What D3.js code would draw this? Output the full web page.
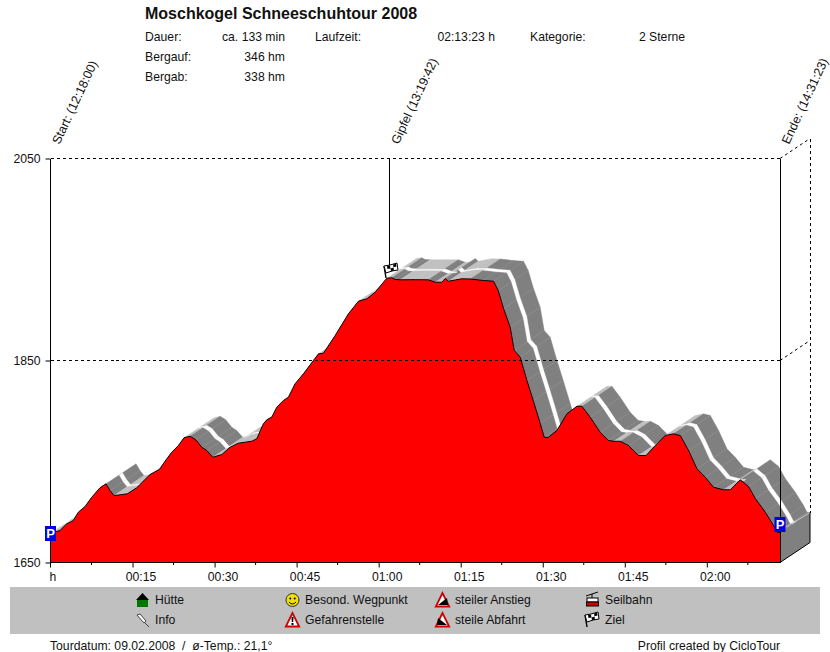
<!DOCTYPE html>
<html>
<head>
<meta charset="utf-8">
<script src="https://cdn.jsdelivr.net/npm/d3@7"></script>
<style>
	html, body { margin: 0; padding: 0; background: #fff; }
	svg { display: block; }
	text { font-family: "Liberation Sans", Arial, sans-serif; font-size: 12.2px; fill: #111; }
</style>
</head>
<body>
<div id="chart"></div>
<script>
// elevation profile
var minutes = [0, 0.46, 1.74, 2.96, 4.17, 5.09, 6.31, 7.54, 9.05, 10.15, 10.88, 11.61, 12.71, 14.05, 15.77, 18.2, 19.9,
	20.94, 22.17, 23.38, 24.42, 25.52, 26.56, 27.66, 28.57, 29.67, 31.32, 32.83, 34.35, 36.8, 37.72, 38.92, 39.55,
	40.46, 41.38, 42.58, 43.5, 44.72, 46.24, 48.07, 49, 49.9, 52.04, 54.47, 56.3, 57.84, 59.36, 61.5, 62.41, 63, 63.93,
	66.67, 69.05, 70.33, 71.56, 72.16, 72.71, 73.99, 75.22, 76.73, 79.17, 81, 81.86, 82.83, 84.05, 84.78, 85.88, 87.11,
	88.26, 89.54, 90.27, 91, 92.59, 94.42, 96.25, 97.16, 98.68, 100.5, 101.98, 103, 104.2, 105.7, 107.5, 108.9, 110.57,
	112.4, 113.9, 115.15, 116.67, 118.2, 119.71, 121.23, 123.06, 124.29, 126.12, 127.64, 128.86, 130.69, 132.21, 132.83, 133.38];
var elevation = [1678.7, 1679.7, 1681.7, 1688.3, 1691.6, 1699.8, 1705.4, 1714.6, 1724, 1727.9, 1721.3, 1716.3, 1717, 1718,
	1724, 1737.1, 1742, 1750.3, 1759.2, 1765.8, 1773.5, 1775, 1771.5, 1764.1, 1760.9, 1754.2, 1756.9, 1764.1, 1768.1,
	1770.1, 1772.5, 1787.3, 1791.3, 1793.9, 1803.8, 1810.4, 1813.7, 1826.9, 1836.8, 1850, 1856.6, 1857.2, 1874.7, 1896.2,
	1908.7, 1911.1, 1917.6, 1931.5, 1931.9, 1930.2, 1929.9, 1930, 1929.9, 1927.5, 1927.5, 1931.2, 1928.5, 1929.7, 1930.9,
	1930.7, 1929.2, 1928.5, 1919.3, 1901.5, 1883, 1860, 1853.3, 1830.2, 1810.4, 1787.6, 1774, 1773.8, 1780.7, 1797.2,
	1804.7, 1804.7, 1793.8, 1779, 1770.8, 1770, 1770, 1765.8, 1755.9, 1755.9, 1765.8, 1775.7, 1777.4, 1775.7, 1760.9,
	1742.8, 1734.4, 1724.5, 1722, 1722, 1731.9, 1725.2, 1713.4, 1699.8, 1686.6, 1680, 1679.7];

var elevTicks = [1650, 1850, 2050];
var timeTicks = [15, 30, 45, 60, 75, 90, 105, 120];
var timeMinor = [7.5, 22.5, 37.5, 52.5, 67.5, 82.5, 97.5, 112.5, 127.5];

var waypointNames = ["Start: (12:18:00)", "Gipfel (13:19:42)", "Ende: (14:31:23)"];
var waypointMinutes = [0, 62, 133.38];

var infoLabels = ["Dauer:", "Bergauf:", "Bergab:"];
var infoValues = ["ca. 133 min", "346 hm", "338 hm"];
var legendLabels = ["Hütte", "Info", "Besond. Wegpunkt", "Gefahrenstelle", "steiler Anstieg", "steile Abfahrt", "Seilbahn", "Ziel"];

var width = 830, height = 652;
var left = 50.5, right = 780, top_ = 158.5, bottom = 562.5;
// depth of the 3d ribbon
var depthX = 30, depthY = -20;

var svg = d3.select("#chart").append("svg").attr("width", width).attr("height", height);

var x = d3.scaleLinear().domain([0, 133.38]).range([left, right]);
var y = d3.scaleLinear().domain([1650, 2050]).range([bottom, top_]);

var profile = minutes.map(function(m, i) { return [x(m), y(elevation[i])]; });

// header
svg.append("text").attr("x", 145).attr("y", 19).style("font-weight", "bold").style("font-size", "16px").text("Moschkogel Schneeschuhtour 2008");
infoLabels.forEach(function(t, i) {
	svg.append("text").attr("x", 145).attr("y", 41 + i * 20).text(t);
	svg.append("text").attr("x", 285).attr("y", 41 + i * 20).attr("text-anchor", "end").text(infoValues[i]);
});
svg.append("text").attr("x", 315).attr("y", 41).text("Laufzeit:");
svg.append("text").attr("x", 495).attr("y", 41).attr("text-anchor", "end").text("02:13:23 h");
svg.append("text").attr("x", 530).attr("y", 41).text("Kategorie:");
svg.append("text").attr("x", 685).attr("y", 41).attr("text-anchor", "end").text("2 Sterne");

// ribbon: only faces that can be seen from the front
var ribbon = svg.append("g");
var faces = [];
for (var i = 0; i < profile.length - 1; i++) {
	var a = profile[i], b = profile[i + 1];
	var slope = (a[1] - b[1]) / (b[0] - a[0]);
	if (slope < 0.62) faces.push({a: a, b: b, falling: slope < -0.03});
}
function facePoints(d, t0, t1) {
	return [
		[d.a[0] + depthX * t0, d.a[1] + depthY * t0],
		[d.b[0] + depthX * t0, d.b[1] + depthY * t0],
		[d.b[0] + depthX * t1, d.b[1] + depthY * t1],
		[d.a[0] + depthX * t1, d.a[1] + depthY * t1]
	].join(" ");
}
faces.forEach(function(d) {
	var col = d.falling ? "#808080" : "#c0c0c0";
	ribbon.append("polygon").attr("points", facePoints(d, 0, 1)).attr("fill", col).attr("stroke", col).attr("stroke-width", 0.4);
});
faces.forEach(function(d) {
	var t0 = d.falling ? 0.44 : 0.47, t1 = d.falling ? 0.55 : 0.52;
	ribbon.append("polygon").attr("points", facePoints(d, t0, t1)).attr("fill", "#fff").attr("stroke", "#fff").attr("stroke-width", 0.3);
});

// end wall of the ribbon
var last = profile[profile.length - 1];
svg.append("path")
	.attr("d", d3.line()([[right, bottom], [right + depthX, bottom + depthY], [right + depthX, last[1] + depthY], last]) + "Z")
	.attr("fill", "#808080");
svg.append("line").attr("x1", last[0]).attr("y1", last[1] - 2).attr("x2", right + depthX).attr("y2", last[1] + depthY)
	.attr("stroke", "#c8c8c8");
svg.append("path")
	.attr("d", d3.line()([[right, bottom], [right + depthX, bottom + depthY], [right + depthX, last[1] + depthY]]))
	.attr("fill", "none").attr("stroke", "#000");

// back wall dashes
svg.append("line").attr("x1", right + depthX).attr("x2", right + depthX).attr("y1", top_ + depthY).attr("y2", last[1] + depthY)
	.attr("stroke", "#000").attr("stroke-dasharray", "3,3").attr("shape-rendering", "crispEdges");

// profile area
var area = d3.area().x(function(d) { return d[0]; }).y0(bottom).y1(function(d) { return d[1]; });
svg.append("path").datum(profile).attr("d", area).attr("fill", "#ff0000");
svg.append("path").datum(profile).attr("d", d3.line()).attr("fill", "none").attr("stroke", "#000").attr("stroke-width", 1);

// dashed elevation lines run over everything
elevTicks.slice(1).forEach(function(v) {
	svg.append("line").attr("x1", left).attr("x2", right).attr("y1", y(v)).attr("y2", y(v))
		.attr("stroke", "#000").attr("stroke-dasharray", "3,3").attr("shape-rendering", "crispEdges");
	svg.append("line").attr("x1", right).attr("x2", right + depthX).attr("y1", y(v)).attr("y2", y(v) + depthY)
		.attr("stroke", "#000").attr("stroke-dasharray", "3,3");
});

// waypoint lines and slanted labels
waypointMinutes.forEach(function(m, i) {
	var px = x(m);
	var yEnd = i == 1 ? 265 : bottom;
	svg.append("line").attr("x1", px).attr("x2", px).attr("y1", top_).attr("y2", yEnd)
		.attr("stroke", "#000").attr("shape-rendering", "crispEdges");
	svg.append("text").attr("transform", "translate(" + (px + 9) + ",145) rotate(-65)").style("font-size", "12.5px").text(waypointNames[i]);
});

// axes
var yAxis = d3.axisLeft(y).tickValues(elevTicks).tickSize(5).tickPadding(5).tickFormat(d3.format("d"));
var yG = svg.append("g").attr("transform", "translate(" + left + ",0)").call(yAxis);
yG.select(".domain").remove();
yG.selectAll("text").style("font-size", "12.2px").style("font-family", null).attr("fill", null);

var xAxis = d3.axisBottom(x).tickValues(timeTicks).tickSize(5).tickPadding(5).tickFormat(function(m) {
	return d3.format("02")(Math.floor(m / 60)) + ":" + d3.format("02")(m % 60);
});
var xG = svg.append("g").attr("transform", "translate(0," + bottom + ")").call(xAxis);
xG.select(".domain").attr("d", "M" + left + ",0H" + right);
xG.selectAll("text").attr("dx", 8).style("font-size", "12.2px").style("font-family", null).attr("fill", null);
xG.selectAll(".minor").data(timeMinor).enter().append("line").attr("class", "minor")
	.attr("x1", function(d) { return x(d); }).attr("x2", function(d) { return x(d); })
	.attr("y1", 0).attr("y2", 2.5).attr("stroke", "#000");
xG.append("line").attr("x1", left).attr("x2", left).attr("y1", 0).attr("y2", 5).attr("stroke", "#000");
svg.append("text").attr("x", left - 1).attr("y", 581).text("h");

// parking signs
function parking(px, py) {
	svg.append("rect").attr("x", px - 5.5).attr("y", py - 15).attr("width", 11).attr("height", 15).attr("fill", "#0000e0");
	svg.append("text").attr("x", px).attr("y", py - 3.5).attr("text-anchor", "middle")
		.style("font-weight", "bold").style("font-size", "13px").style("fill", "#fff").text("P");
}
parking(left, 541);
parking(right, 532);

// checkered flag
function flag(g, px, py) {
	var f = g.append("g").attr("transform", "translate(" + px + "," + py + ")");
	f.append("path").attr("d", "M1,15L-1,3").attr("stroke", "#000").attr("stroke-width", 1.4);
	f.append("path").attr("d", "M-1,3L5,2L12,0L13,7L7,8L1,10Z").attr("fill", "#fff").attr("stroke", "#000");
	f.append("path").attr("d", "M2,3L5,2.5L5.5,5.5L2.5,6ZM8,1.5L11,0.8L11.5,3.5L8.5,4.2ZM5.5,5.5L8.5,4.5L9,7.5L6,8.2Z").attr("fill", "#000");
}
flag(svg, 385, 263);

// legend
svg.append("rect").attr("x", 10).attr("y", 587).attr("width", 810).attr("height", 47).attr("fill", "#c0c0c0");
var legendX = [155, 155, 305, 305, 455, 455, 605, 605];
var legendY = [604, 624, 604, 624, 604, 624, 604, 624];
legendLabels.forEach(function(t, i) {
	svg.append("text").attr("x", legendX[i]).attr("y", legendY[i]).text(t);
});

// hut
svg.append("path").attr("d", "M136,600L142.5,593L149,600Z").attr("fill", "#000");
svg.append("rect").attr("x", 137).attr("y", 600).attr("width", 11).attr("height", 7).attr("fill", "#007800");
// info pin
svg.append("path").attr("d", "M137,615L140,614L146,621L144,623ZM144,622L149,627").attr("fill", "#fff").attr("stroke", "#333").attr("stroke-width", 0.9);
// smiley
svg.append("circle").attr("cx", 292.5).attr("cy", 600).attr("r", 6.5).attr("fill", "#f0e000").attr("stroke", "#333");
svg.append("circle").attr("cx", 290.3).attr("cy", 598.5).attr("r", 1).attr("fill", "#000");
svg.append("circle").attr("cx", 294.7).attr("cy", 598.5).attr("r", 1).attr("fill", "#000");
svg.append("path").attr("d", "M289,602Q292.5,606 296,602").attr("fill", "none").attr("stroke", "#000");

function warnTriangle(px, py) {
	svg.append("path").attr("d", "M" + px + "," + py + "l-6.7,13.5h13.4Z").attr("fill", "#fff").attr("stroke", "#d00000").attr("stroke-width", 1.8);
}
warnTriangle(292.5, 613);
svg.append("path").attr("d", "M291.5,617h2l-.3,5h-1.4ZM291.5,623h2v2h-2Z").attr("fill", "#000");
// steep up
warnTriangle(442.5, 593);
svg.append("path").attr("d", "M438,605L447,598L448,605Z").attr("fill", "#000");
// steep down
warnTriangle(442.5, 613);
svg.append("path").attr("d", "M437,625L438,618L447,625Z").attr("fill", "#000");
// cable car
svg.append("path").attr("d", "M586,596L598,592M592,594V598").attr("stroke", "#000").attr("fill", "none");
svg.append("rect").attr("x", 587).attr("y", 598).attr("width", 11).attr("height", 4).attr("fill", "#fff").attr("stroke", "#000");
svg.append("rect").attr("x", 586.5).attr("y", 602).attr("width", 12).attr("height", 4).attr("fill", "#d00000").attr("stroke", "#000");
flag(svg, 586, 612);

// footer
svg.append("text").attr("x", 50).attr("y", 650).text("Tourdatum: 09.02.2008  /  ø-Temp.: 21,1°").attr("xml:space", "preserve");
svg.append("text").attr("x", 780).attr("y", 650).attr("text-anchor", "end").text("Profil created by CicloTour");
</script>
</body>
</html>
